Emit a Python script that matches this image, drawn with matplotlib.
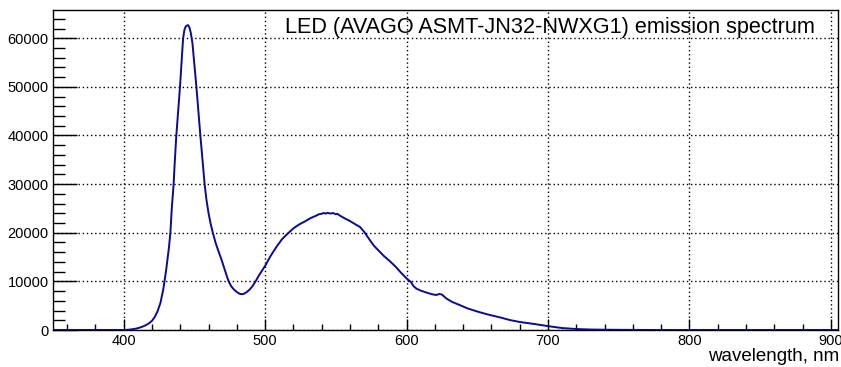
import matplotlib
matplotlib.use('Agg')
import matplotlib.pyplot as plt
from matplotlib.ticker import MultipleLocator

# emission spectrum (wavelength nm, counts)
wavelength = [350, 400, 403, 406, 409, 412, 415, 418, 420, 422, 424, 426, 428,
              430, 432, 433, 434, 435.3, 436, 437.2, 438.5, 439.8, 441, 442,
              443, 444, 445.5, 446.5, 447.5, 448.6, 450, 451.4, 452.8, 454.2,
              455.7, 457.2, 458.5, 460, 461.5, 463.2, 465, 467, 469, 471, 473,
              474.2, 476, 478, 480, 482, 483.5, 485, 487, 489, 491, 493, 496,
              500, 504, 508, 512, 516.6, 520, 524, 528, 532, 536, 538, 540, 541,
              543, 544, 546, 548, 550, 551, 553, 556, 560, 564, 567, 570, 574,
              577, 581, 584, 588, 592, 596, 600, 603, 605, 607, 610, 614, 618,
              621, 623, 625, 628, 632, 637, 643, 650, 658, 666, 673, 680, 690,
              700, 710, 720, 730, 740, 750, 760, 780, 905]
counts = [0, 0, 50, 150, 300, 550, 900, 1400, 1900, 2700, 3900, 5600, 8400,
          12300, 17000, 20000, 25000, 30000, 34000, 40000, 45000, 50000, 55500,
          60000, 61800, 62500, 62700, 62200, 61000, 59000, 54500, 50000, 45000,
          40000, 35000, 30000, 26800, 24000, 21800, 19800, 17900, 16200, 14600,
          12800, 11000, 10000, 9000, 8300, 7800, 7450, 7350, 7450, 7800, 8300,
          9000, 9900, 11400, 13200, 15300, 17100, 18700, 20000, 20900, 21700,
          22300, 23000, 23500, 23800, 23900, 24050, 23950, 24100, 23950, 24050,
          23800, 23900, 23500, 23000, 22400, 21700, 21200, 20200, 18500, 17300,
          16100, 15200, 14200, 13100, 11800, 10600, 9900, 9000, 8500, 8100,
          7700, 7350, 7200, 7400, 7300, 6500, 5800, 5200, 4450, 3800, 3150,
          2600, 2050, 1650, 1250, 800, 400, 200, 100, 60, 40, 20, 0, 0]

title = 'LED (AVAGO ASMT-JN32-NWXG1) emission spectrum'
x_label = 'wavelength, nm'

plt.rcParams['font.family'] = ['Liberation Sans', 'DejaVu Sans']

fig = plt.figure(figsize=(8.41, 3.67), dpi=100)
ax = fig.add_axes([0.063, 0.1008, 0.9334, 0.8732])

ax.plot(wavelength, counts, color='#0a0a96', lw=1.4, zorder=3,
        solid_joinstyle='round')

ax.set_xlim(350, 905)
ax.set_ylim(0, 65900)

ax.xaxis.set_major_locator(MultipleLocator(100))
ax.xaxis.set_minor_locator(MultipleLocator(20))
ax.yaxis.set_major_locator(MultipleLocator(10000))
ax.yaxis.set_minor_locator(MultipleLocator(2000))

ax.tick_params(axis='both', which='both', direction='in', top=False, right=False,
               labelsize=10.5, width=1, color='black')
ax.tick_params(axis='x', which='major', length=8, pad=3)
ax.tick_params(axis='x', which='minor', length=4)
ax.tick_params(axis='y', which='major', length=17, pad=3)
ax.tick_params(axis='y', which='minor', length=8.5)

ax.grid(True, which='major', color='black', linestyle=(0, (1, 2)), lw=1)

for s in ax.spines.values():
    s.set_linewidth(1)

ax.text(0.971, 0.926, title, transform=ax.transAxes, ha='right', va='baseline',
        fontsize=15.6)
fig.text(0.998, 0.017, x_label, ha='right', va='baseline', fontsize=13.5)

fig.savefig('out.png', dpi=100)
